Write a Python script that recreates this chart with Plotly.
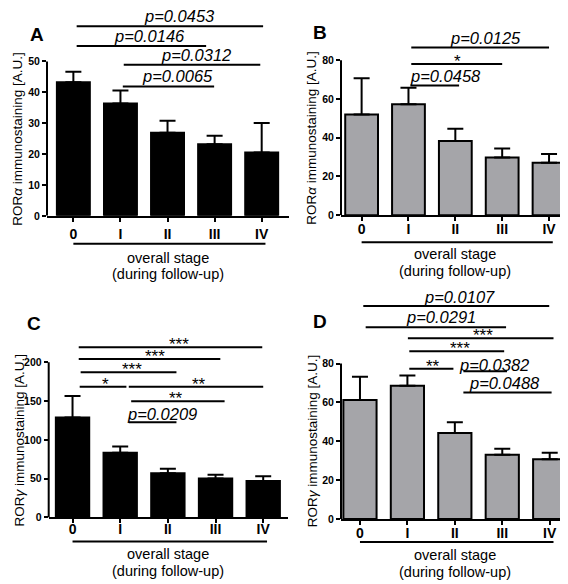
import plotly.graph_objects as go

W, H = 568, 584
FONT = "Liberation Sans, Arial, sans-serif"

stages = ["0", "I", "II", "III", "IV"]
stage_pos = [0, 1, 2, 3, 4]

a_mean = [43.3, 36.4, 26.9, 23.2, 20.5]
a_err = [3.4, 4.2, 3.9, 2.7, 9.6]
b_mean = [51.9, 57.2, 38.3, 29.8, 27.1]
b_err = [18.7, 8.5, 6.3, 4.6, 4.4]
c_mean = [128.9, 83.4, 57.0, 50.2, 46.8]
c_err = [27.7, 8.1, 5.6, 4.7, 6.4]
d_mean = [61.3, 68.6, 44.3, 33.1, 30.7]
d_err = [11.9, 5.3, 5.5, 3.1, 3.4]

a_ticks = [0, 10, 20, 30, 40, 50]
b_ticks = [0, 20, 40, 60, 80]
c_ticks = [0, 50, 100, 150, 200]
d_ticks = [0, 20, 40, 60, 80]

# significance brackets: (from, to, height, label, label centre)
a_sig = [(0.07, 4.03, 61.4, "p=0.0453", 2.26),
         (0.07, 2.82, 55.0, "p=0.0146", 1.62),
         (1.07, 3.97, 48.9, "p=0.0312", 2.61),
         (1.05, 2.99, 41.9, "p=0.0065", 2.22)]
b_sig = [(1.06, 4.00, 86.5, "p=0.0125", 2.64),
         (1.06, 3.00, 78.0, "*", 2.05),
         (1.04, 2.08, 66.9, "p=0.0458", 1.79)]
c_sig = [(0.13, 3.98, 219.6, "***", 2.23),
         (0.13, 3.10, 204.3, "***", 1.72),
         (0.17, 2.18, 187.2, "***", 1.25),
         (0.15, 1.13, 168.5, "*", 0.69),
         (1.18, 4.00, 168.5, "**", 2.65),
         (1.23, 3.19, 149.8, "**", 2.16),
         (1.18, 2.18, 122.6, "p=0.0209", 1.87)]
d_sig = [(0.07, 3.99, 109.6, "p=0.0107", 2.09),
         (0.12, 3.08, 98.7, "p=0.0291", 1.70),
         (1.01, 4.08, 93.1, "***", 2.60),
         (1.04, 3.04, 86.3, "***", 2.11),
         (1.04, 1.97, 77.3, "**", 1.55),
         (2.18, 3.10, 76.1, "p=0.0382", 2.83),
         (2.18, 4.04, 65.1, "p=0.0488", 3.04)]

# label offsets (pixels) for labels sitting closer to their bracket
label_shift = {"p=0.0382": -5, "p=0.0209": -3, "p=0.0107": -2}

panels = [
    dict(name="A", mean=a_mean, err=a_err, ticks=a_ticks, sig=a_sig, color="black",
         ytitle="ROR<i>α</i> immunostaining [A.U.]",
         left=39, right=281, bottom=210, toptick_px=54, top=12, xr=[-0.56, 4.58],
         letter=(29, 27), under=28, txt=(42, 58), standoff=0),
    dict(name="B", mean=b_mean, err=b_err, ticks=b_ticks, sig=b_sig, color="#a5a5a9",
         ytitle="ROR<i>α</i> immunostaining [A.U.]",
         left=333, right=564, bottom=209.3, toptick_px=52.7, top=35, xr=[-0.44, 4.49],
         letter=(312, 25), under=27, txt=(39, 56), standoff=-4),
    dict(name="C", mean=c_mean, err=c_err, ticks=c_ticks, sig=c_sig, color="black",
         ytitle="ROR<i>γ</i> immunostaining [A.U.]",
         left=40.7, right=280, bottom=514.7, toptick_px=358, top=336, xr=[-0.50, 4.52],
         letter=(26, 319), under=24, txt=(37, 54), standoff=-6),
    dict(name="D", mean=d_mean, err=d_err, ticks=d_ticks, sig=d_sig, color="#a5a5a9",
         ytitle="ROR<i>γ</i> immunostaining [A.U.]",
         left=333, right=564, bottom=516.3, toptick_px=359.3, top=296, xr=[-0.40, 4.47],
         letter=(312, 317), under=23, txt=(36, 53), standoff=-4),
]

fig = go.Figure()
layout = dict(width=W, height=H, margin=dict(l=0, r=0, t=0, b=0),
              paper_bgcolor="white", plot_bgcolor="rgba(0,0,0,0)",
              showlegend=False)
shapes = []
annotations = []

for i, p in enumerate(panels):
    n = "" if i == 0 else str(i + 1)
    xa, ya = "x" + n, "y" + n
    xkey, ykey = "xaxis" + n, "yaxis" + n
    toptick = p["ticks"][-1]
    scale = (p["bottom"] - p["toptick_px"]) / toptick
    ymax = (p["bottom"] - p["top"]) / scale

    fig.add_trace(go.Bar(
        x=stage_pos, y=p["mean"], width=0.7, xaxis=xa, yaxis=ya,
        marker=dict(color=p["color"], line=dict(color="black", width=2)),
        error_y=dict(type="data", symmetric=False, array=p["err"],
                     arrayminus=[0] * 5, color="black", thickness=2, width=8),
    ))

    layout[xkey] = dict(domain=[p["left"] / W, p["right"] / W], range=p["xr"],
                        anchor=ya, tickvals=stage_pos, ticktext=stages,
                        showline=True, linewidth=2, linecolor="black",
                        ticks="outside", ticklen=4, tickwidth=2, tickcolor="black",
                        ticklabelstandoff=p["standoff"],
                        tickfont=dict(family=FONT, size=14, color="black", weight="bold"),
                        showgrid=False, zeroline=False, fixedrange=True)
    layout[ykey] = dict(domain=[1 - p["bottom"] / H, 1 - p["top"] / H], range=[0, ymax],
                        anchor=xa, tickvals=p["ticks"], showline=False,
                        ticks="outside", ticklen=4, tickwidth=2, tickcolor="black",
                        tickfont=dict(family=FONT, size=10.5, color="black", weight="bold"),
                        showgrid=False, zeroline=False, fixedrange=True)

    # y axis line from 0 to top tick
    shapes.append(dict(type="line", xref=xa + " domain", yref=ya, x0=0, x1=0,
                       y0=0, y1=toptick, line=dict(color="black", width=2)))
    # underline beneath stages
    shapes.append(dict(type="line", xref=xa, yref=ya + " domain", x0=0, x1=4.08,
                       ysizemode="pixel", yanchor=0, y0=-p["under"], y1=-p["under"],
                       line=dict(color="black", width=2)))
    annotations.append(dict(xref=xa, yref=ya, x=2, y=0, yshift=-p["txt"][0], showarrow=False,
                            text="overall stage", xanchor="center", yanchor="middle",
                            font=dict(family=FONT, size=14.5, color="black")))
    annotations.append(dict(xref=xa, yref=ya, x=2, y=0, yshift=-p["txt"][1], showarrow=False,
                            text="(during follow-up)", xanchor="center", yanchor="middle",
                            font=dict(family=FONT, size=14.5, color="black")))
    # y title
    annotations.append(dict(xref=xa + " domain", yref=ya, x=0, y=toptick / 2, xshift=-29,
                            showarrow=False, text=p["ytitle"], textangle=-90,
                            xanchor="center", yanchor="middle",
                            font=dict(family=FONT, size=13.5, color="black")))
    # panel letter
    lx, ly = p["letter"]
    annotations.append(dict(xref="paper", yref="paper", x=lx / W, y=1 - ly / H,
                            showarrow=False, text="<b>%s</b>" % p["name"],
                            xanchor="center", yanchor="middle",
                            font=dict(family=FONT, size=19, color="black")))
    # significance brackets
    for (x0, x1, yv, lab, tx) in p["sig"]:
        shapes.append(dict(type="line", xref=xa, yref=ya, x0=x0, x1=x1, y0=yv, y1=yv,
                           line=dict(color="black", width=2)))
        star = lab.startswith("*")
        if star:
            annotations.append(dict(xref=xa, yref=ya, x=tx, y=yv, showarrow=False,
                                    text=lab, xanchor="center", yanchor="bottom",
                                    height=12, valign="top", yshift=-2,
                                    font=dict(family=FONT, size=17, color="black")))
        else:
            annotations.append(dict(xref=xa, yref=ya, x=tx, y=yv, showarrow=False,
                                    text="<i>%s</i>" % lab, xanchor="center",
                                    yanchor="bottom", yshift=label_shift.get(lab, -1),
                                    font=dict(family=FONT, size=16.5, color="black")))

layout["shapes"] = shapes
layout["annotations"] = annotations
fig.update_layout(**layout)
fig.write_html("out.html")
